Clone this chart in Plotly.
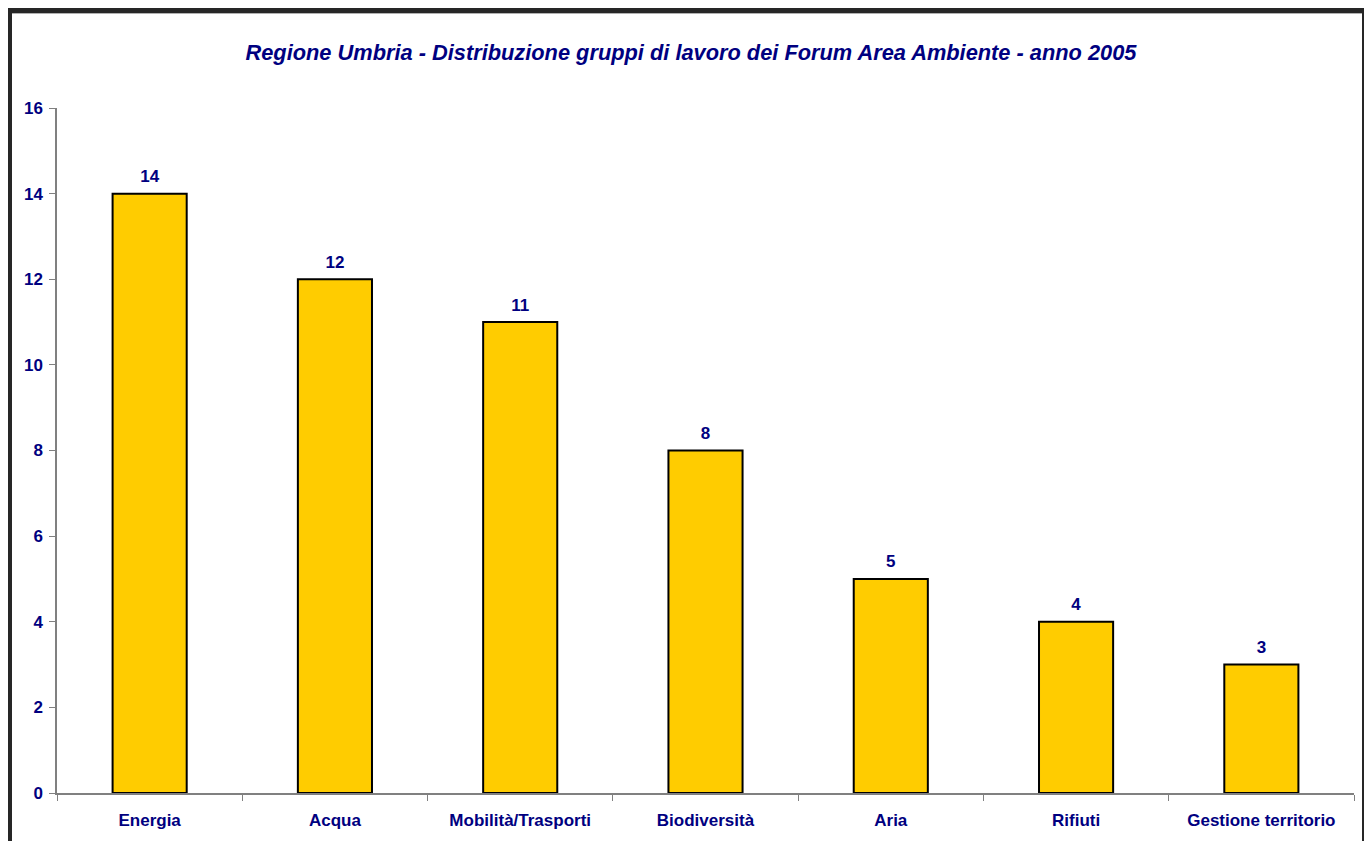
import plotly.graph_objects as go

categories = ["Energia", "Acqua", "Mobilità/Trasporti", "Biodiversità", "Aria", "Rifiuti", "Gestione territorio"]
values = [14, 12, 11, 8, 5, 4, 3]
title_text = "Regione Umbria - Distribuzione gruppi di lavoro dei Forum Area Ambiente - anno 2005"

OFF = 8  # page body margin
W, H = 1372 - OFF, 841 - OFF
L, T = 57 - OFF, 108 - OFF
R = W - (1354 - OFF)
B = H - (793 - OFF)
pw, ph = W - L - R, H - T - B

def px_x(p):
    return (p - OFF - L) / pw

def px_y(p):
    return (H - B - (p - OFF)) / ph

navy = "#000080"
font_family = "Liberation Sans, Arial, sans-serif"

fig = go.Figure()
fig.add_trace(go.Bar(
    x=categories, y=values, width=0.4,
    marker=dict(color="#FFCC00", line=dict(color="#000000", width=2)),
    hoverinfo="x+y",
))
fig.add_trace(go.Scatter(
    x=categories, y=values, mode="markers+text",
    marker=dict(size=10, opacity=0),
    text=["<b>%d</b>" % v for v in values], textposition="top center",
    textfont=dict(family=font_family, size=17, color=navy),
    cliponaxis=False, hoverinfo="skip",
))

fig.update_layout(
    width=W, height=H,
    margin=dict(l=L, r=R, t=T, b=B),
    paper_bgcolor="white", plot_bgcolor="white",
    showlegend=False,
    font=dict(family=font_family, color=navy),
    title=dict(text="<b><i>" + title_text + "</i></b>", x=(691 - OFF) / W, xanchor="center",
               y=1 - (52 - OFF) / H, yanchor="middle",
               font=dict(family=font_family, size=21.8, color=navy)),
    xaxis=dict(range=[-0.5, 6.5], showline=True, linecolor="#808080", linewidth=1.5,
               ticks="outside", tickson="boundaries", ticklen=6, tickcolor="#808080",
               ticklabelstandoff=11,
               tickfont=dict(family=font_family, size=17, color=navy),
               showgrid=False, zeroline=False),
    yaxis=dict(range=[0, 16], dtick=2, showline=True, linecolor="#808080", linewidth=1.5,
               ticks="outside", ticklen=6, tickcolor="#808080",
               ticklabelstandoff=3,
               tickfont=dict(family=font_family, size=17, color=navy),
               showgrid=False, zeroline=False),
)
fig.update_xaxes(tickprefix="<b>", ticksuffix="</b>")
fig.update_yaxes(tickprefix="<b>", ticksuffix="</b>")

# outer frame
for (x0, y0, x1, y1, w) in [
    (8, 10.5, 1366, 10.5, 5),
    (10, 8, 10, 860, 4),
    (1365, 8, 1365, 860, 6),
]:
    fig.add_shape(type="line", xref="paper", yref="paper",
                  x0=px_x(x0), y0=px_y(y0), x1=px_x(x1), y1=px_y(y1),
                  line=dict(color="#262626", width=w))
fig.add_shape(type="line", xref="paper", yref="paper",
              x0=px_x(12), y0=px_y(13.5), x1=px_x(1362), y1=px_y(13.5),
              line=dict(color="#b0b0b0", width=1))

fig.write_html("out.html")
